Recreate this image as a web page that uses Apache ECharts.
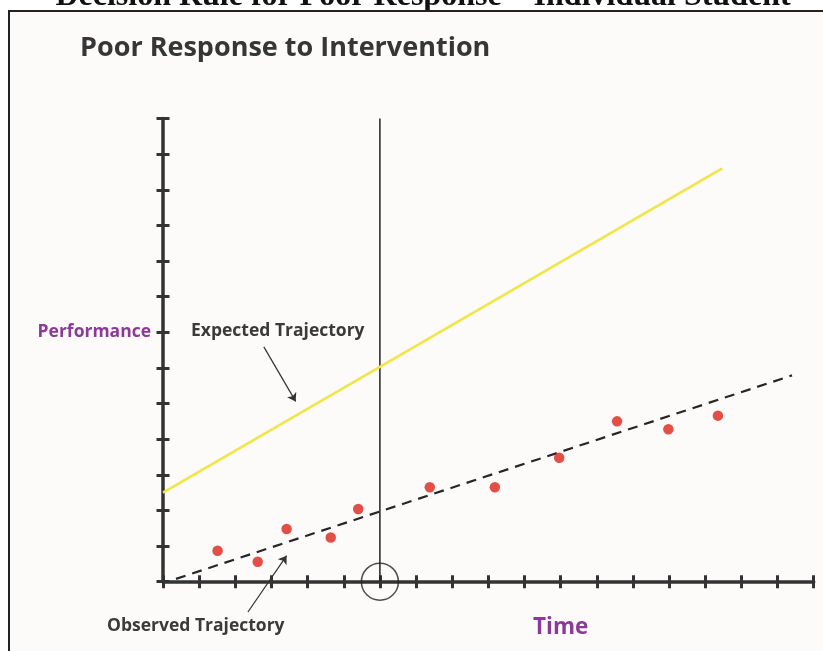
<!DOCTYPE html>
<html>
<head>
<meta charset="utf-8">
<script src="https://cdn.jsdelivr.net/npm/echarts@6/dist/echarts.min.js"></script>
<style>html,body{margin:0;padding:0;background:#fff;}#c{width:823px;height:651px;}</style>
</head>
<body>
<div id="c"></div>
<script>
// ---- data ----
const xMax = 18;           // time ticks
const yMax = 13;           // performance ticks
const interventionX = 6;   // time of decision point
const observedPoints = [[1.51,0.87],[2.62,0.56],[3.42,1.48],[4.64,1.24],[5.40,2.04],[7.38,2.65],[9.18,2.65],[10.96,3.48],[12.56,4.50],[13.98,4.28],[15.35,4.66]];
const expectedLine = [[0,2.5],[15.47,11.6]];
const observedLine = [[0.36,0.08],[17.4,5.79]];
const expectedArrow = [[2.79,6.59],[3.67,5.06]];
const observedArrow = [[2.35,-0.85],[3.42,0.73]];
const yLabelValue = 7, yLabelText = 'Performance';
const xLabelValue = 11, xLabelText = 'Time';

const chart = echarts.init(document.getElementById('c'), null, {renderer:'canvas'});
const axisColor = '#333';
const font = '"Open Sans", "Noto Sans", sans-serif';
const grid = {left:163, right:9.3, top:118.5, bottom:69.3};

const baseX = {type:'value', min:0, max:xMax, interval:1, position:'bottom', splitLine:{show:false}};
const baseY = {type:'value', min:0, max:yMax, interval:1, position:'left', splitLine:{show:false}};

chart.setOption({
  animation:false,
  backgroundColor:'#ffffff',
  grid: grid,
  xAxis:[
    Object.assign({}, baseX, {
      axisLine:{show:true, lineStyle:{color:axisColor, width:3.5}},
      axisTick:{show:true, length:6.5, lineStyle:{color:axisColor, width:3}},
      axisLabel:{show:true, margin:34, formatter:v => v===xLabelValue ? xLabelText : '',
        color:'#8b3a98', fontFamily:font, fontWeight:'bold', fontSize:22.5, showMinLabel:true, showMaxLabel:true}
    }),
    Object.assign({}, baseX, {
      axisLine:{show:false},
      axisTick:{show:true, inside:true, length:6.5, lineStyle:{color:axisColor, width:3}},
      axisLabel:{show:false}
    })
  ],
  yAxis:[
    Object.assign({}, baseY, {
      axisLine:{show:true, lineStyle:{color:axisColor, width:3.5}},
      axisTick:{show:true, length:6.5, lineStyle:{color:axisColor, width:3}},
      axisLabel:{show:true, margin:12, formatter:v => v===yLabelValue ? yLabelText : '',
        color:'#8b3a98', fontFamily:font, fontWeight:'bold', fontSize:17.5}
    }),
    Object.assign({}, baseY, {
      axisLine:{show:false},
      axisTick:{show:true, inside:true, length:6.5, lineStyle:{color:axisColor, width:3}},
      axisLabel:{show:false}
    })
  ],
  series:[
    {type:'line', data:[[interventionX,0],[interventionX,yMax]], symbol:'none',
      lineStyle:{color:'#222', width:1.5}, z:3},
    {type:'line', data:expectedLine, symbol:'none',
      lineStyle:{color:'#f0e64a', width:2.8}, z:4},
    {type:'line', data:observedLine, symbol:'none',
      lineStyle:{color:'#262626', width:2.2, type:[10,7]}, z:4},
    {type:'scatter', data:observedPoints, symbolSize:10.5,
      itemStyle:{color:'#dc2419'}, z:5},
    {type:'scatter', data:[[interventionX,0]], symbol:'circle', symbolSize:37,
      itemStyle:{color:'rgba(0,0,0,0)', borderColor:'#222', borderWidth:1.5}, z:6, silent:true},
    {type:'lines', coordinateSystem:'cartesian2d', clip:false,
      data:[{coords:expectedArrow},{coords:observedArrow}],
      symbol:['none','arrow'], symbolSize:8,
      lineStyle:{color:'#333', width:1.2, opacity:1}, z:6}
  ],
  graphic:[
    {type:'text', z:-110, x:423, y:13,
      style:{text:'Decision Rule for Poor Response \u2013 Individual Student', fill:'#111',
        font:'bold 32px "Liberation Serif", "Times New Roman", serif', textAlign:'center', textVerticalAlign:'bottom'}},
    {type:'rect', z:-100, shape:{x:9, y:11, width:830, height:660},
      style:{fill:'#fcfbf9', stroke:'#222', lineWidth:2}},
    {type:'text', x:80, y:48.5, style:{text:'Poor Response to Intervention', fill:'#363636',
      font:'bold 27px ' + font, textVerticalAlign:'middle'}},
    {type:'text', x:191, y:331, style:{text:'Expected Trajectory', fill:'#3a3a3a',
      font:'bold 17.5px ' + font, textVerticalAlign:'middle'}},
    {type:'text', x:107, y:626, style:{text:'Observed Trajectory', fill:'#3a3a3a',
      font:'bold 17.5px ' + font, textVerticalAlign:'middle'}}
  ]
});
</script>
</body>
</html>
